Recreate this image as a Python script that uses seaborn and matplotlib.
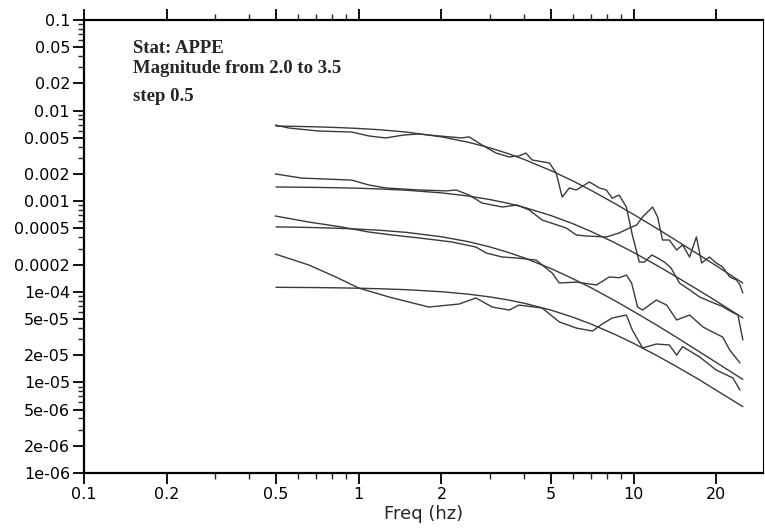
import matplotlib
matplotlib.use("Agg")
import matplotlib.pyplot as plt
import matplotlib.ticker as mticker
import numpy as np
import pandas as pd
import seaborn as sns

# ---------------- data ----------------
model_freq = [0.5, 0.6, 0.7, 0.85, 1, 1.2, 1.5, 2, 2.5, 3, 3.5, 4, 5, 6, 7, 8.5, 10, 12, 14, 17, 20, 25]
model1 = [0.00675, 0.00669, 0.00662, 0.00649, 0.00635, 0.00614, 0.00578, 0.00513, 0.00448, 0.00388,
          0.00335, 0.00289, 0.00218, 0.00168, 0.00132, 0.000952, 0.000715, 0.000513, 0.000384,
          0.000265, 0.000194, 0.000125]
model2 = [0.001434, 0.001428, 0.00142, 0.001406, 0.00139, 0.001365, 0.00132, 0.001236, 0.001141,
          0.001043, 0.000947, 0.000856, 0.000695, 0.000566, 0.000464, 0.000351, 0.000272, 0.000200,
          0.0001525, 0.000107, 0.000079, 0.0000515]
model3 = [0.00052, 0.000516, 0.000511, 0.000502, 0.000492, 0.000477, 0.000452, 0.000405, 0.000358,
          0.000313, 0.000272, 0.000237, 0.000181, 0.000140, 0.000111, 0.0000806, 0.0000608,
          0.0000438, 0.0000329, 0.0000227, 0.0000166, 0.0000108]
model4 = [0.0001121, 0.0001117, 0.0001113, 0.0001105, 0.0001095, 0.000108, 0.0001054, 0.0001002,
          0.0000942, 0.0000878, 0.0000813, 0.0000748, 0.0000629, 0.0000526, 0.0000441, 0.0000342,
          0.000027, 0.0000202, 0.0000156, 0.0000111, 0.0000082, 0.0000054]

obs1_freq = [0.497, 0.555, 0.714, 0.943, 1.088, 1.254, 1.46, 1.656, 1.96, 2.37, 2.52, 2.81, 3.16,
             3.53, 3.83, 4.06, 4.28, 4.94, 5.23, 5.5, 5.84, 6.19, 6.91, 7.52, 7.96, 8.37, 8.86,
             9.42, 9.9, 10.5, 10.96, 11.66, 12.24, 12.95, 13.7, 14.7, 16.0, 17.4, 19.2, 20.9,
             22.8, 24.0, 25.0]
obs1 = [0.00693, 0.00643, 0.00595, 0.00580, 0.00525, 0.00499, 0.00538, 0.00552, 0.00525, 0.00499,
        0.00513, 0.00417, 0.00340, 0.00308, 0.00316, 0.00340, 0.00285, 0.00264, 0.00205, 0.00111,
        0.00140, 0.00133, 0.00163, 0.00140, 0.00133, 0.00108, 0.00117, 0.000863, 0.000424,
        0.000213, 0.000213, 0.000255, 0.000236, 0.000213, 0.000183, 0.000125, 0.000105,
        0.0000877, 0.0000771, 0.0000697, 0.0000598, 0.0000554, 0.0000294]

obs2_freq = [0.497, 0.619, 0.943, 1.088, 1.254, 1.656, 2.08, 2.26, 2.52, 2.81, 3.33, 3.77, 4.17,
             4.65, 5.69, 6.19, 6.72, 7.96, 8.86, 9.67, 10.27, 10.79, 11.73, 12.24, 12.75, 13.5,
             14.35, 15.08, 16.0, 16.94, 17.7, 18.9, 20.0, 21.1, 22.4, 23.7, 24.4, 25.0]
obs2 = [0.00200, 0.00180, 0.00171, 0.00151, 0.00140, 0.00133, 0.00130, 0.00133, 0.00117, 0.000955,
        0.000863, 0.000908, 0.000800, 0.000620, 0.000506, 0.000424, 0.000413, 0.000403, 0.000446,
        0.000506, 0.000546, 0.000670, 0.000863, 0.000670, 0.000373, 0.000373, 0.000289, 0.000329,
        0.000242, 0.000403, 0.000208, 0.000242, 0.000208, 0.000188, 0.000146, 0.000135, 0.000119,
        0.0000970]

obs3_freq = [0.497, 0.657, 0.867, 1.088, 1.32, 1.656, 2.18, 2.67, 2.91, 3.33, 3.77, 4.42, 5.06,
             5.37, 6.19, 7.33, 8.17, 8.86, 9.42, 9.84, 10.35, 10.79, 12.1, 13.2, 14.35, 16.0,
             17.9, 19.4, 21.1, 22.4, 24.4]
obs3 = [0.000687, 0.000589, 0.000519, 0.000457, 0.000424, 0.000393, 0.000355, 0.000312, 0.000268,
        0.000242, 0.000236, 0.000224, 0.000161, 0.000125, 0.000128, 0.000119, 0.000146, 0.000143,
        0.000153, 0.000125, 0.0000679, 0.0000629, 0.0000811, 0.0000714, 0.0000489, 0.0000554,
        0.0000409, 0.0000360, 0.0000317, 0.0000228, 0.0000164]

obs4_freq = [0.497, 0.657, 0.824, 1.0, 1.287, 1.8, 2.32, 2.67, 3.06, 3.53, 3.83, 4.65, 5.37, 6.19,
             7.09, 7.7, 8.37, 9.42, 9.9, 10.79, 12.1, 13.5, 14.35, 15.08, 17.4, 20.0, 23.0, 24.4]
obs4 = [0.000261, 0.000198, 0.000146, 0.000110, 0.0000877, 0.0000679, 0.0000733, 0.0000855,
        0.0000679, 0.0000629, 0.0000714, 0.0000662, 0.0000465, 0.0000398, 0.0000369, 0.0000442,
        0.0000514, 0.0000554, 0.0000379, 0.0000240, 0.0000265, 0.0000259, 0.0000200, 0.0000248,
        0.0000191, 0.0000137, 0.0000112, 0.00000824]

x_ticks = [0.1, 0.2, 0.5, 1, 2, 5, 10, 20]
x_tick_labels = ["0.1", "0.2", "0.5", "1", "2", "5", "10", "20"]
y_ticks = [0.1, 0.05, 0.02, 0.01, 0.005, 0.002, 0.001, 0.0005, 0.0002, 1e-4, 5e-5, 2e-5, 1e-5,
           5e-6, 2e-6, 1e-6]
y_tick_labels = ["0.1", "0.05", "0.02", "0.01", "0.005", "0.002", "0.001", "0.0005", "0.0002",
                 "1e-04", "5e-05", "2e-05", "1e-05", "5e-06", "2e-06", "1e-06"]
annotation_lines = ["Stat: APPE", "Magnitude from 2.0 to 3.5", "step 0.5"]

# ---------------- plotting ----------------
sns.set_style("ticks")
plt.rcParams["font.family"] = ["DejaVu Sans"]

fig = plt.figure(figsize=(7.65, 5.29), dpi=100)
ax = fig.add_axes([84 / 765, 1 - 473 / 529, (763 - 84) / 765, (473 - 20) / 529])

line_color = "#3a3a3a"
curves = [(model_freq, model1), (obs1_freq, obs1),
          (model_freq, model2), (obs2_freq, obs2),
          (model_freq, model3), (obs3_freq, obs3),
          (model_freq, model4), (obs4_freq, obs4)]
for fx, fy in curves:
    sns.lineplot(x=fx, y=fy, ax=ax, color=line_color, linewidth=1.0, estimator=None, sort=False)

ax.set_xscale("log")
ax.set_yscale("log")
ax.set_xlim(0.1, 29.6)
ax.set_ylim(1e-6, 0.1)

ax.xaxis.set_major_locator(mticker.FixedLocator(x_ticks))
ax.xaxis.set_major_formatter(mticker.FixedFormatter(x_tick_labels))
ax.xaxis.set_minor_locator(mticker.LogLocator(base=10, subs=(3, 4, 6, 7, 8, 9)))
ax.xaxis.set_minor_formatter(mticker.NullFormatter())
ax.yaxis.set_major_locator(mticker.FixedLocator(y_ticks))
ax.yaxis.set_major_formatter(mticker.FixedFormatter(y_tick_labels))
ax.yaxis.set_minor_locator(mticker.LogLocator(base=10, subs=(3, 4, 6, 7, 8, 9)))
ax.yaxis.set_minor_formatter(mticker.NullFormatter())

ax.tick_params(axis="both", which="major", direction="out", length=8, width=1.3,
               labelsize=11.5, colors="black", pad=2)
ax.tick_params(axis="both", which="minor", direction="out", length=4, width=1.0)
ax.tick_params(axis="x", which="both", top=True, bottom=True)
ax.tick_params(axis="y", which="both", left=True, right=False)

for side in ["left", "bottom", "top", "right"]:
    ax.spines[side].set_visible(True)
    ax.spines[side].set_color("black")
    ax.spines[side].set_linewidth(1.6)
ax.spines["right"].set_linewidth(0.8)

ax.set_xlabel("Freq (hz)", fontsize=13, labelpad=2)
ax.set_ylabel("")

for txt, yfrac in zip(annotation_lines, [0.938, 0.894, 0.832]):
    ax.text(0.072, yfrac, txt, transform=ax.transAxes, fontsize=13.5, fontweight="bold",
            family=["Liberation Serif", "DejaVu Serif"], va="center", ha="left")

fig.savefig("out.png", dpi=100, facecolor="white")
